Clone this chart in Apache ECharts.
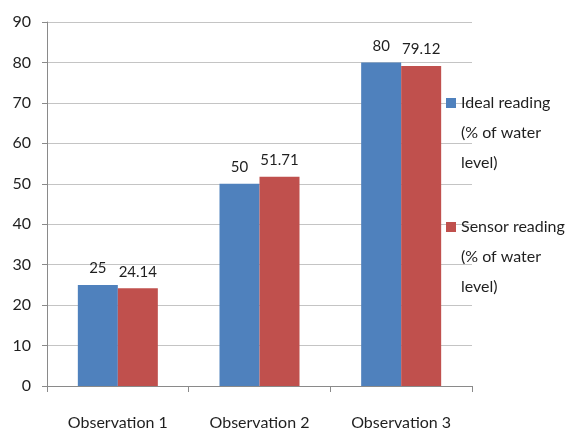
<!DOCTYPE html>
<html>
<head>
<meta charset="utf-8">
<script src="https://cdn.jsdelivr.net/npm/echarts@6/dist/echarts.min.js"></script>
<style>
  html, body { margin: 0; padding: 0; background: #fff; }
  #chart { width: 571px; height: 436px; }
</style>
</head>
<body>
<div id="chart"></div>
<script>
const categories = ['Observation 1', 'Observation 2', 'Observation 3'];
const idealReading = [25, 50, 80];
const sensorReading = [24.14, 51.71, 79.12];
const seriesNames = ['Ideal reading (% of water level)', 'Sensor reading (% of water level)'];
const legendLines = {
    'Ideal reading (% of water level)': 'Ideal reading\n(% of water\nlevel)',
    'Sensor reading (% of water level)': 'Sensor reading\n(% of water\nlevel)'
};

const chart = echarts.init(document.getElementById('chart'));
const font = 'Lato';
const textColor = '#1f1f1f';

const legendText = {
    color: textColor,
    fontFamily: font,
    fontSize: 16,
    lineHeight: 30
};
// two blank lines in front so the marker (centred on the block) lands on the first text line
const legendFormat = name => '\n\n' + legendLines[name];

const option = {
    animation: false,
    backgroundColor: '#fff',
    grid: { left: 47, right: 99, top: 22, bottom: 50, containLabel: false },
    legend: [
        {
            data: [seriesNames[0]],
            orient: 'vertical',
            left: 446,
            top: 28,
            padding: 0,
            itemWidth: 10,
            itemHeight: 10,
            icon: 'rect',
            textStyle: legendText,
            formatter: legendFormat
        },
        {
            data: [seriesNames[1]],
            orient: 'vertical',
            left: 446,
            top: 152,
            padding: 0,
            itemWidth: 10,
            itemHeight: 10,
            icon: 'rect',
            textStyle: legendText,
            formatter: legendFormat
        }
    ],
    xAxis: {
        type: 'category',
        data: categories,
        axisLine: { lineStyle: { color: '#8a8a8a', width: 1 } },
        axisTick: { show: true, length: 6, lineStyle: { color: '#8a8a8a' } },
        axisLabel: {
            color: textColor,
            fontFamily: font,
            fontSize: 16,
            margin: 29
        }
    },
    yAxis: {
        type: 'value',
        min: 0,
        max: 90,
        interval: 10,
        axisLine: { show: true, lineStyle: { color: '#8a8a8a', width: 1 } },
        axisTick: { show: true, length: 5, lineStyle: { color: '#8a8a8a' } },
        axisLabel: {
            color: textColor,
            fontFamily: font,
            fontSize: 16,
            margin: 16
        },
        splitLine: { lineStyle: { color: '#c4c4c4', width: 1 } }
    },
    series: [
        {
            name: seriesNames[0],
            type: 'bar',
            data: idealReading,
            barWidth: 40,
            barGap: 0,
            itemStyle: { color: '#4f81bd' },
            label: {
                show: true,
                position: 'top',
                distance: 9,
                color: textColor,
                fontFamily: font,
                fontSize: 15
            }
        },
        {
            name: seriesNames[1],
            type: 'bar',
            data: sensorReading,
            barWidth: 40,
            barGap: 0,
            itemStyle: { color: '#c0504d' },
            label: {
                show: true,
                position: 'top',
                distance: 9,
                color: textColor,
                fontFamily: font,
                fontSize: 15
            }
        }
    ]
};

chart.setOption(option);
</script>
</body>
</html>
